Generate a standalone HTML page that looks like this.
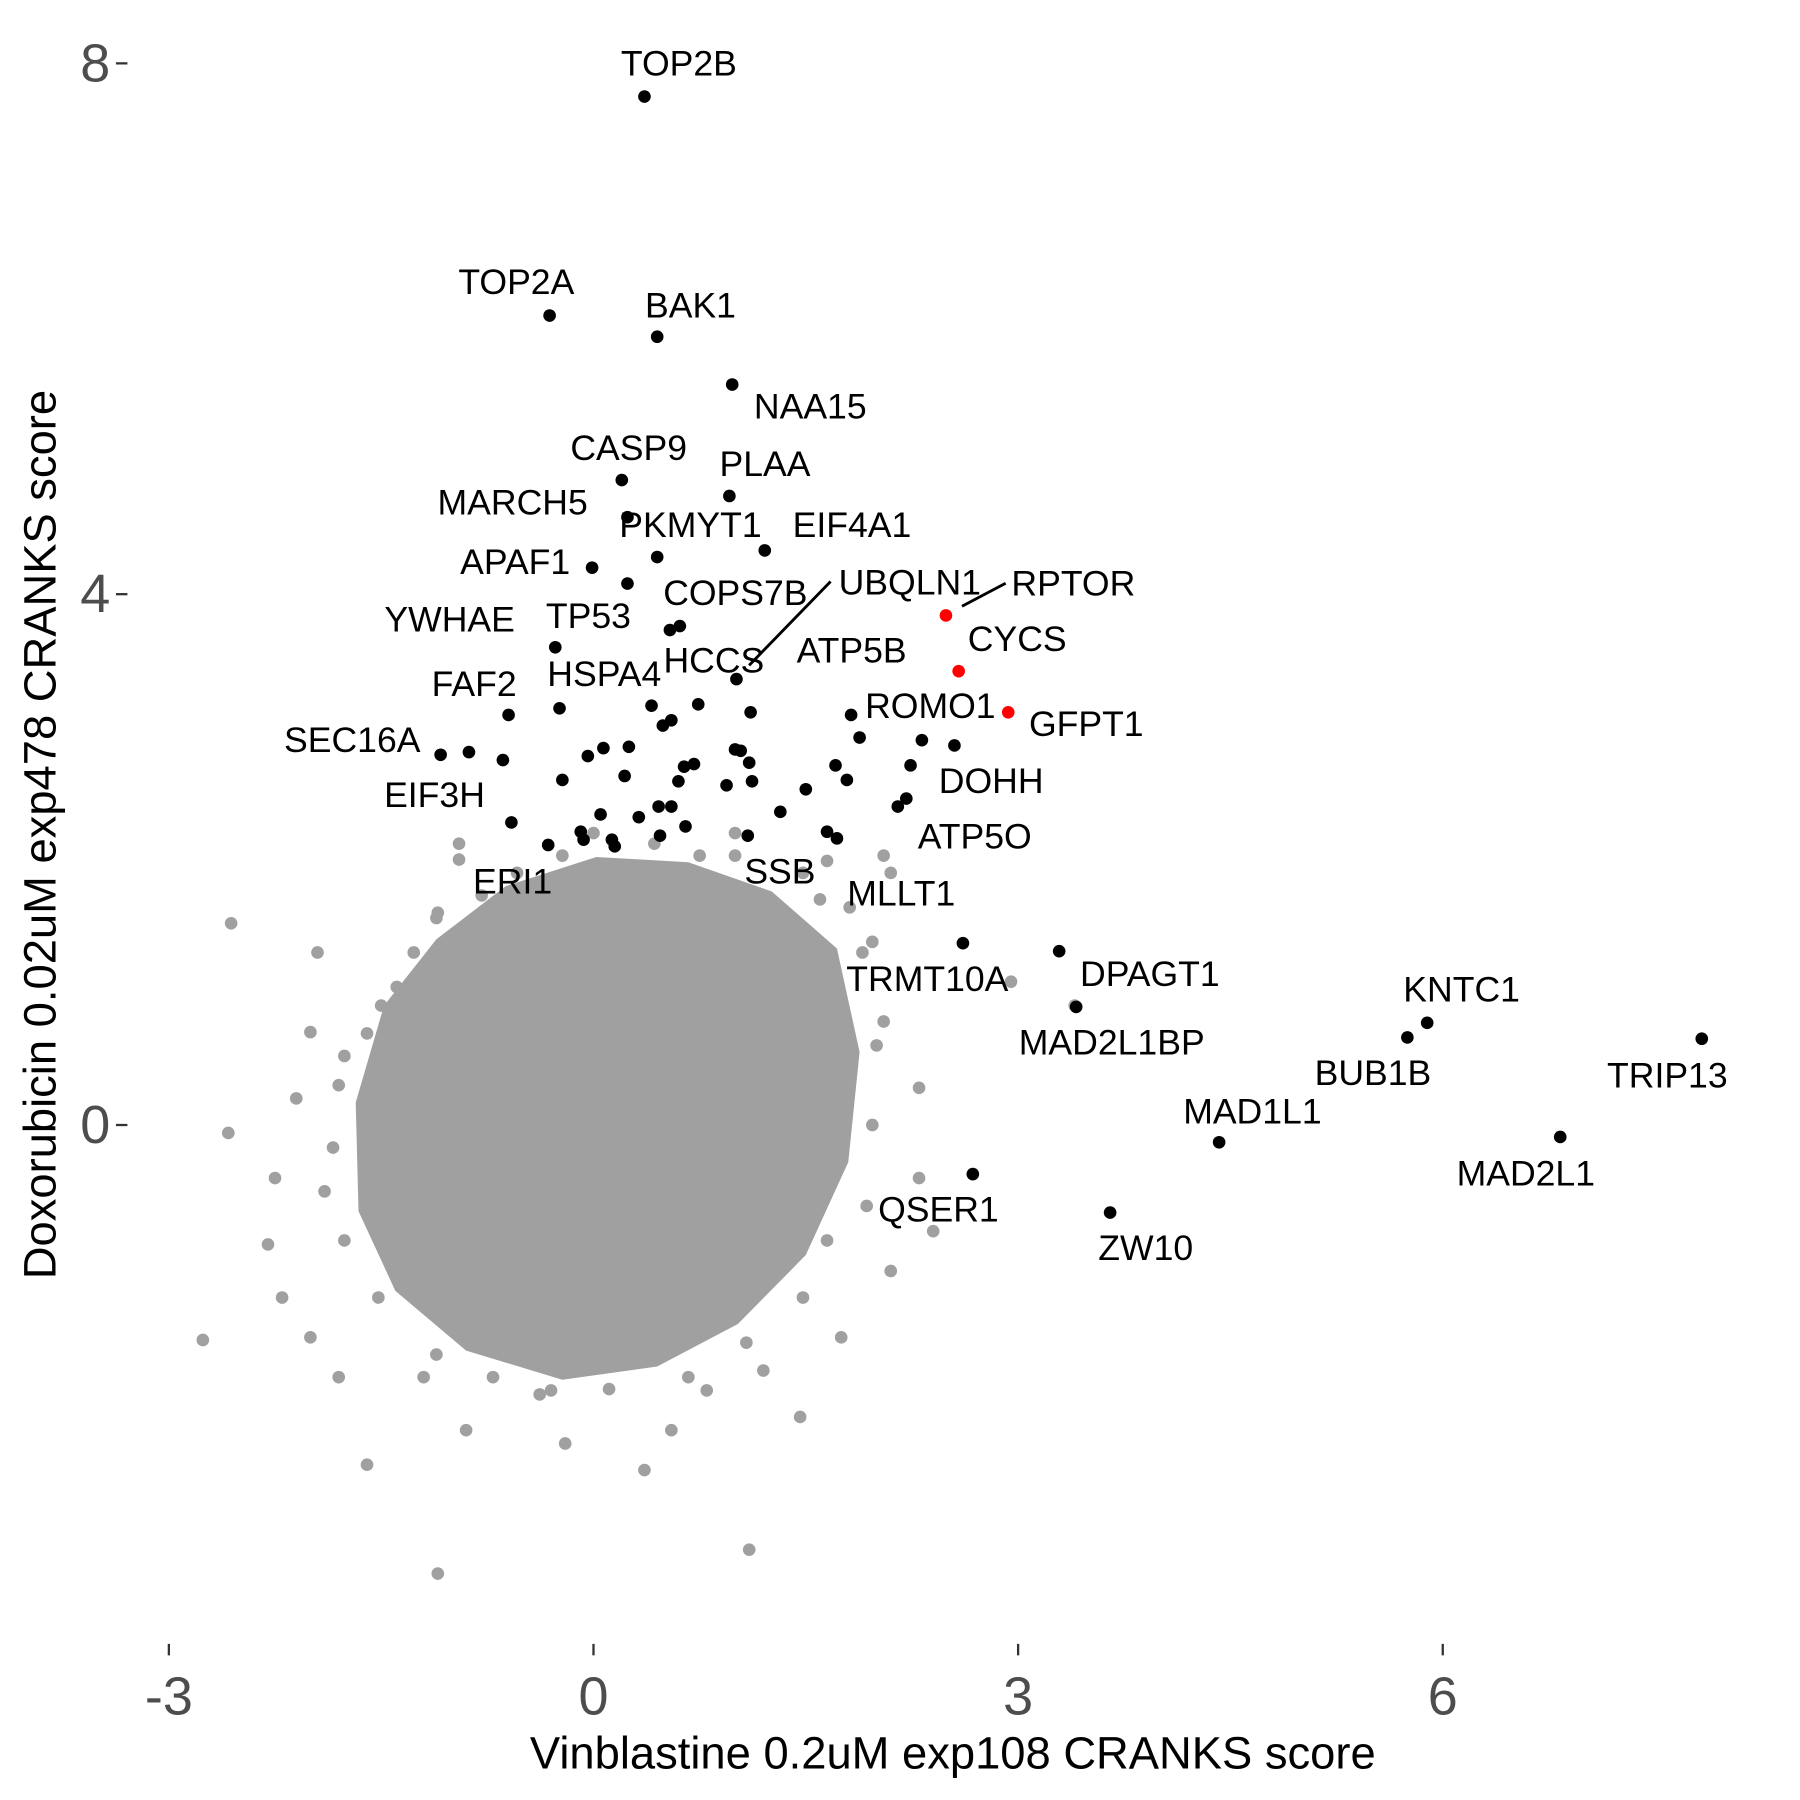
<!DOCTYPE html>
<html><head><meta charset="utf-8"><style>
html,body{margin:0;padding:0;background:#fff}
svg{display:block}
text{font-family:"Liberation Sans",Arial,sans-serif}
</style></head><body>
<svg id="chart" width="1800" height="1800" viewBox="0 0 1568 1568" xmlns="http://www.w3.org/2000/svg">
<g id="cloud"></g>
<g id="hits"></g>
<g id="axes"></g>
<text x="830" y="1527" text-anchor="middle" dominant-baseline="central" font-size="39.5" fill="#000">Vinblastine 0.2uM exp108 CRANKS score</text>
<text transform="translate(35,727) rotate(-90)" text-anchor="middle" dominant-baseline="central" font-size="39.5" fill="#000">Doxorubicin 0.02uM exp478 CRANKS score</text>
</svg>
<script>
// Background density outline (data units)
const blobX = [0.02,-0.62,-1.11,-1.48,-1.68,-1.66,-1.40,-0.90,-0.22,0.45,1.02,1.50,1.80,1.88,1.72,1.26,0.67];
const blobY = [2.02,1.80,1.40,0.90,0.17,-0.65,-1.25,-1.70,-1.92,-1.82,-1.50,-0.98,-0.28,0.55,1.33,1.76,1.98];
// Background outlier genes
const grayX = [-2.76,-2.56,-2.58,-1.1,1.1,-1.6,0.36,1.46,-1.8,-2.2,-2.3,-2.25,-2.0,-0.2,-0.9,0.55,2.1,2.3,1.9,2.1,2.95,3.4,-2.0,-1.95,-1.1,-0.95,1.0,-0.3,1.2,-1.5,1.6,2.3,2.0,-1.8,-1.9,-1.2,0.8,1.75,2.4,-2.1,0.0,
 -1.11,-1.27,-1.39,-1.60,-1.76,-1.84,-1.76,-1.52,-1.11,-0.71,-0.38,0.11,0.67,1.08,1.48,1.65,1.93,1.97,2.05,1.97,1.81,1.48,1.00,0.43,-0.54,-0.79,-0.95,-0.22,0.75,1.65,2.05];
const grayY = [-1.62,1.52,-0.06,-3.38,-3.2,-2.56,-2.6,-2.2,-1.9,-1.3,-0.9,-0.4,-1.6,-2.4,-2.3,-2.3,-1.1,0.28,1.3,1.9,1.08,0.9,0.7,1.3,1.6,2.0,2.2,-2.0,-1.85,0.9,1.7,-0.4,0.6,0.3,-0.5,-1.9,-2.0,-1.6,-0.8,0.2,2.2,
 1.56,1.30,1.04,0.69,0.52,-0.17,-0.87,-1.30,-1.73,-1.90,-2.03,-1.99,-1.90,-1.64,-1.30,-0.87,-0.61,0.0,0.78,1.38,1.64,1.90,2.03,2.12,1.90,1.73,2.12,2.03,2.03,1.99,2.03];
// Labelled genes
const hitNames = ["TOP2B","TOP2A","BAK1","NAA15","CASP9","PLAA","MARCH5","PKMYT1","EIF4A1","APAF1","COPS7B","RPTOR","CYCS","GFPT1","YWHAE","TP53","UBQLN1","HCCS","ATP5B","HSPA4","FAF2","ROMO1","SEC16A","EIF3H","DOHH","ATP5O","SSB","ERI1","MLLT1","TRMT10A","DPAGT1","MAD2L1BP","KNTC1","BUB1B","TRIP13","MAD1L1","MAD2L1","QSER1","ZW10"];
const hitX = [0.36,-0.31,0.45,0.98,0.20,0.96,0.24,0.45,1.21,-0.01,0.24,2.49,2.58,2.93,-0.27,0.54,1.01,1.11,1.71,-0.24,-0.60,1.82,-1.08,-0.58,2.55,2.15,1.09,-0.32,1.72,2.61,3.29,3.41,5.89,5.75,7.83,4.42,6.83,2.68,3.65];
const hitY = [7.75,6.10,5.94,5.58,4.86,4.74,4.58,4.28,4.33,4.20,4.08,3.84,3.42,3.11,3.60,3.73,3.36,3.11,2.71,3.14,3.09,3.09,2.79,2.28,2.86,2.40,2.18,2.11,2.16,1.37,1.31,0.89,0.77,0.66,0.65,-0.13,-0.09,-0.37,-0.66];
const hitRed = ["RPTOR","CYCS","GFPT1"];
// Other significant (unlabelled) genes
const blackX = [-0.88,-0.64,-0.22,-0.04,0.07,0.25,0.22,0.41,0.49,0.55,0.74,0.64,0.71,0.60,0.94,1.00,1.04,1.10,1.12,1.50,1.79,1.88,2.24,2.32,2.21,1.32,1.65,0.65,0.46,0.55,0.32,0.05,-0.09,-0.07,0.13,0.15,0.47,0.61];
const blackY = [2.81,2.75,2.60,2.78,2.84,2.85,2.63,3.16,3.01,3.05,3.17,2.70,2.72,2.59,2.56,2.83,2.82,2.73,2.59,2.53,2.60,2.92,2.71,2.90,2.46,2.36,2.21,2.25,2.40,2.40,2.32,2.34,2.21,2.15,2.15,2.10,2.18,3.76];
const xTicks = [-3,0,3,6];
const yTicks = [0,4,8];

// label offsets (layout, px)
const off = {TOP2B:[30,-29],TOP2A:[-29,-29],BAK1:[29,-27],NAA15:[68,19],CASP9:[6,-28],PLAA:[31,-28],MARCH5:[-100,-13],PKMYT1:[29,-28],EIF4A1:[76,-22],APAF1:[-67,-5],COPS7B:[94,8],RPTOR:[111,-28],CYCS:[51,-28],GFPT1:[68,10],YWHAE:[-92,-24],TP53:[-71,-12],UBQLN1:[151,-84],HCCS:[-32,-45],ATP5B:[14,-100],HSPA4:[39,-30],FAF2:[-30,-27],ROMO1:[69,-8],SEC16A:[-77,-13],EIF3H:[-67,-24],DOHH:[32,31],ATP5O:[67,26],SSB:[28,31],ERI1:[-31,32],MLLT1:[56,48],TRMT10A:[-31,31],DPAGT1:[79,20],MAD2L1BP:[31,31],KNTC1:[30,-29],BUB1B:[-30,31],TRIP13:[-30,32],MAD1L1:[29,-27],MAD2L1:[-30,32],QSER1:[-30,31],ZW10:[31,31]};
const segs = {RPTOR:[[14,-8],[52,-28]],UBQLN1:[[11,-12],[82,-85]]};

const NS = "http://www.w3.org/2000/svg";
const sx = v => 517 + v * 123.3;
const sy = v => 980 - v * 115.6;
function mk(tag, parent, attrs){ const e = document.createElementNS(NS, tag); for (const k in attrs) e.setAttribute(k, attrs[k]); parent.appendChild(e); return e; }

const cloud = document.getElementById('cloud');
const poly = mk('polygon', cloud, {points: blobX.map((x,i)=>sx(x)+','+sy(blobY[i])).join(' '), fill:'#a0a0a0'});


grayX.forEach((x,i)=>{
  const c = mk('circle', cloud, {cx:sx(x), cy:sy(grayY[i]), r:5.5, fill:'#a0a0a0'});
  
  
});
const hits = document.getElementById('hits');
blackX.forEach((x,i)=>{
  const c = mk('circle', hits, {cx:sx(x), cy:sy(blackY[i]), r:5.5, fill:'#000'});
  
  
});
hitNames.forEach((n,i)=>{
  const px = sx(hitX[i]), py = sy(hitY[i]);
  const c = mk('circle', hits, {cx:px, cy:py, r:5.5, fill: hitRed.includes(n) ? '#ff0000' : '#000'});
  
  
  const o = off[n] || [0,-28];
  const t = mk('text', hits, {x:px+o[0], y:py+o[1], 'text-anchor':'middle', 'dominant-baseline':'central', 'font-size':31, fill:'#000'});
  t.textContent = n;
  
  
  if (segs[n]) {
    const s = segs[n];
    const l = mk('line', hits, {x1:px+s[0][0], y1:py+s[0][1], x2:px+s[1][0], y2:py+s[1][1], stroke:'#000', 'stroke-width':2.5});
    
    
  }
});
const axes = document.getElementById('axes');
xTicks.forEach(v=>{
  const l = mk('line', axes, {x1:sx(v), x2:sx(v), y1:1432, y2:1442, stroke:'#333', 'stroke-width':2});
  
  
  const t = mk('text', axes, {x:sx(v), y:1478, 'text-anchor':'middle', 'dominant-baseline':'central', 'font-size':47, fill:'#4d4d4d'});
  t.textContent = v;
  
  
});
yTicks.forEach(v=>{
  const l = mk('line', axes, {x1:101, x2:111, y1:sy(v), y2:sy(v), stroke:'#333', 'stroke-width':2});
  
  
  const t = mk('text', axes, {x:96, y:sy(v), 'text-anchor':'end', 'dominant-baseline':'central', 'font-size':47, fill:'#4d4d4d'});
  t.textContent = v;
  
  
});
</script>
</body></html>
